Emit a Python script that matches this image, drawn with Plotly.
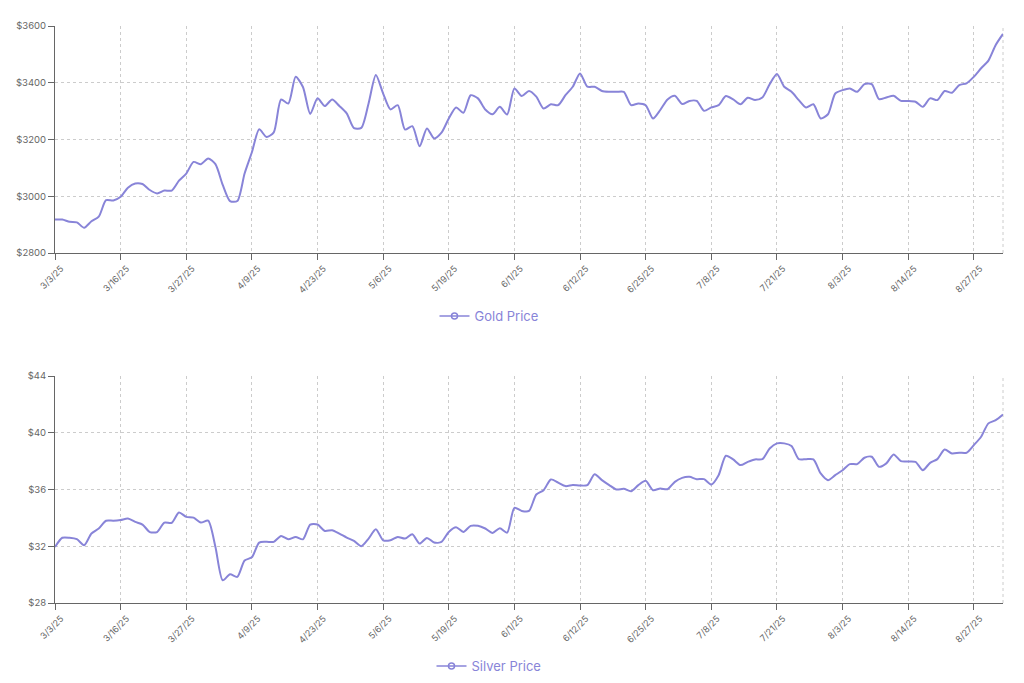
import datetime as dt
import plotly.graph_objects as go

# ---- data -------------------------------------------------------------
tick_dates = ["2025-03-03", "2025-03-16", "2025-03-27", "2025-04-09", "2025-04-23",
              "2025-05-06", "2025-05-19", "2025-06-01", "2025-06-12", "2025-06-25",
              "2025-07-08", "2025-07-21", "2025-08-03", "2025-08-14", "2025-08-27"]
tail_dates = ["2025-08-28", "2025-08-29", "2025-09-01", "2025-09-02"]

gold = [2918, 2918, 2910, 2908, 2889, 2912, 2928, 2986, 2985, 2998,
        3030, 3045, 3043, 3022, 3010, 3020, 3020, 3055, 3080, 3121,
        3113, 3133, 3113, 3040, 2983, 2983, 3080, 3155, 3236, 3209,
        3225, 3341, 3327, 3421, 3385, 3290, 3345, 3318, 3341, 3318,
        3292, 3240, 3241, 3327, 3427, 3362, 3306, 3321, 3235, 3247,
        3176, 3239, 3204, 3224, 3274, 3313, 3294, 3356, 3345, 3306,
        3289, 3315, 3288, 3380, 3353, 3371, 3351, 3309, 3324, 3321,
        3356, 3386, 3433, 3386, 3386, 3371, 3368, 3368, 3368, 3321,
        3327, 3321, 3274, 3304, 3341, 3354, 3325, 3336, 3336, 3301,
        3313, 3321, 3353, 3341, 3324, 3347, 3339, 3348, 3395, 3431,
        3386, 3368, 3339, 3313, 3324, 3274, 3289, 3362, 3374, 3380,
        3368, 3395, 3395, 3342, 3348, 3354, 3336, 3336, 3333, 3315,
        3345, 3339, 3371, 3365, 3392, 3398, 3421, 3451, 3478, 3533,
        3572]

silver = [31.95, 32.60, 32.60, 32.50, 32.07, 32.90, 33.25, 33.80, 33.80, 33.85,
          33.95, 33.72, 33.53, 33.00, 33.00, 33.67, 33.65, 34.38, 34.07, 34.02,
          33.67, 33.80, 31.95, 29.60, 30.02, 29.84, 31.00, 31.22, 32.26, 32.31,
          32.31, 32.73, 32.49, 32.66, 32.49, 33.53, 33.53, 33.08, 33.13, 32.89,
          32.61, 32.38, 32.00, 32.54, 33.20, 32.42, 32.42, 32.66, 32.54, 32.85,
          32.19, 32.59, 32.26, 32.31, 33.01, 33.34, 33.01, 33.44, 33.44, 33.25,
          32.94, 33.27, 32.96, 34.71, 34.49, 34.49, 35.65, 35.95, 36.71, 36.49,
          36.24, 36.31, 36.28, 36.31, 37.08, 36.66, 36.31, 36.00, 36.05, 35.88,
          36.31, 36.61, 35.95, 36.07, 36.02, 36.54, 36.82, 36.89, 36.73, 36.73,
          36.35, 37.01, 38.38, 38.12, 37.72, 37.95, 38.12, 38.14, 38.89, 39.25,
          39.25, 39.06, 38.14, 38.14, 38.12, 37.13, 36.66, 37.01, 37.36, 37.79,
          37.79, 38.24, 38.31, 37.60, 37.84, 38.47, 38.00, 37.98, 37.95, 37.36,
          37.88, 38.14, 38.82, 38.54, 38.59, 38.59, 39.13, 39.72, 40.66, 40.89,
          41.29]

# ---- category labels (9 points between labelled ticks) ---------------
def lab(d):
    return f"{d.month}/{d.day}/{d.year % 100}"

tds = [dt.date.fromisoformat(s) for s in tick_dates]
dates = []
for a, b in zip(tds[:-1], tds[1:]):
    span = (b - a).days
    for k in range(9):
        dates.append(lab(a + dt.timedelta(days=round(k * span / 9))))
dates.append(lab(tds[-1]))
dates += [lab(dt.date.fromisoformat(s)) for s in tail_dates]
tick_labels = [lab(d) for d in tds]

# ---- figure -----------------------------------------------------------
COLOR = "#8884d8"
OFF = 8                      # page body margin
W, H = 1024, 683
FONT = "Inter, Open Sans, sans-serif"

def px_x(p):
    return (p - OFF) / W

def px_y(p):
    return 1 - (p - OFF) / H

fig = go.Figure()
fig.add_trace(go.Scatter(x=dates, y=gold, mode="lines", line=dict(color=COLOR, width=2, shape="spline", smoothing=0.7),
                         xaxis="x", yaxis="y", showlegend=False, name="Gold Price"))
fig.add_trace(go.Scatter(x=[None], y=[None], mode="lines+markers", name="Gold Price",
                         line=dict(color=COLOR, width=1.5),
                         marker=dict(symbol="circle-open", size=6, color=COLOR, line=dict(width=1.5)),
                         xaxis="x", yaxis="y", legend="legend"))
fig.add_trace(go.Scatter(x=dates, y=silver, mode="lines", line=dict(color=COLOR, width=2, shape="spline", smoothing=0.7),
                         xaxis="x2", yaxis="y2", showlegend=False, name="Silver Price"))
fig.add_trace(go.Scatter(x=[None], y=[None], mode="lines+markers", name="Silver Price",
                         line=dict(color=COLOR, width=1.5),
                         marker=dict(symbol="circle-open", size=6, color=COLOR, line=dict(width=1.5)),
                         xaxis="x2", yaxis="y2", legend="legend2"))

dom_x = [px_x(55), px_x(1003)]
gold_dom = [px_y(253), px_y(26)]
silver_dom = [px_y(603), px_y(376)]

xcommon = dict(type="category", categoryorder="array", categoryarray=dates,
               range=[0, len(dates) - 1], domain=dom_x,
               tickmode="array", tickvals=tick_labels, ticktext=tick_labels,
               tickangle=-45, tickfont=dict(size=9, color="#666", family=FONT),
               ticklabelshift=6,
               showline=True, linecolor="#666", linewidth=1,
               ticks="outside", ticklen=6, tickcolor="#666",
               showgrid=True, gridcolor="#ccc", griddash="3px,3px", gridwidth=1,
               zeroline=False, automargin=False, fixedrange=True)
ycommon = dict(showline=True, linecolor="#666", linewidth=1,
               ticks="outside", ticklen=6, tickcolor="#666",
               tickfont=dict(size=9.5, color="#666", family=FONT),
               showgrid=True, gridcolor="#ccc", griddash="3px,3px", gridwidth=1,
               zeroline=False, automargin=False, tickprefix="$", tickmode="linear")

fig.update_layout(
    width=W, height=H,
    margin=dict(l=0, r=0, t=0, b=0),
    paper_bgcolor="white", plot_bgcolor="white",
    font=dict(family=FONT, color="#666"),
    xaxis=dict(**xcommon, anchor="y"),
    yaxis=dict(**ycommon, domain=gold_dom, range=[2800, 3600], dtick=200, anchor="x"),
    xaxis2=dict(**xcommon, anchor="y2"),
    yaxis2=dict(**ycommon, domain=silver_dom, range=[28, 44], dtick=4, anchor="x2"),
    legend=dict(x=px_x(489), y=px_y(316), xanchor="center", yanchor="middle",
                orientation="h", font=dict(size=13, color=COLOR, family=FONT),
                bgcolor="rgba(0,0,0,0)", itemwidth=30),
    legend2=dict(x=px_x(489), y=px_y(666), xanchor="center", yanchor="middle",
                 orientation="h", font=dict(size=13, color=COLOR, family=FONT),
                 bgcolor="rgba(0,0,0,0)", itemwidth=30),
    shapes=[
        dict(type="line", xref="x domain", yref="y domain", x0=1, x1=1, y0=0, y1=1,
             line=dict(color="#ccc", width=1, dash="3px,3px"), layer="below"),
        dict(type="line", xref="x2 domain", yref="y2 domain", x0=1, x1=1, y0=0, y1=1,
             line=dict(color="#ccc", width=1, dash="3px,3px"), layer="below"),
    ],
)

fig.write_html("out.html")
